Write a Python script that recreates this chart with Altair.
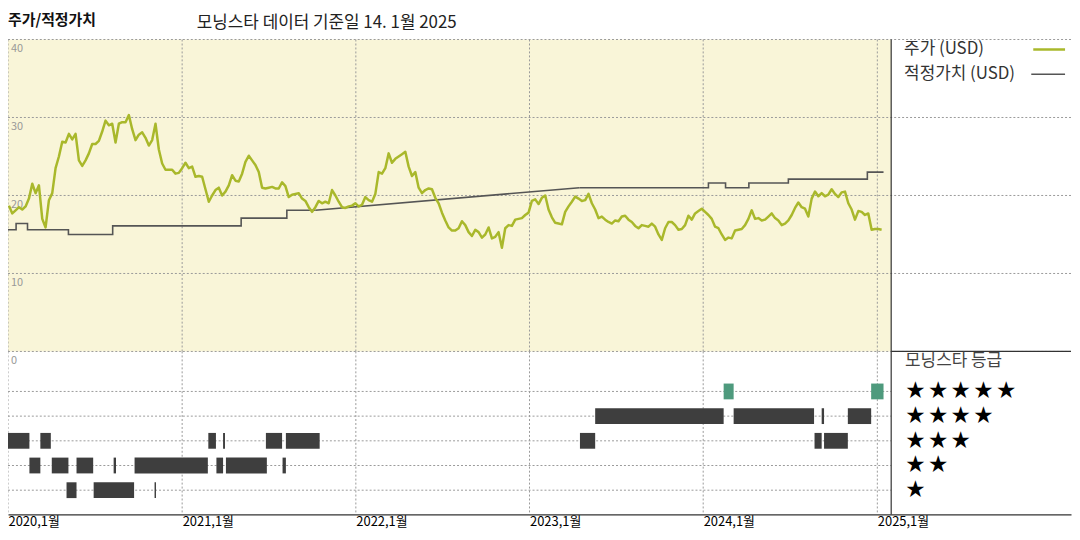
import altair as alt
import pandas as pd

# ---------------- data ----------------
price_start = "2020-01-03"  # weekly closing prices, one value per week from this Friday
price_values = [
    18.7, 17.7, 18.1, 18.5, 18.2, 18.6, 19.6, 21.5, 20.3, 21.3,
    17.0, 15.9, 19.4, 20.3, 23.5, 25.0, 26.9, 26.8, 27.9, 27.2,
    27.9, 24.5, 23.8, 24.5, 25.4, 26.6, 26.6, 27.0, 28.2, 29.6,
    29.0, 29.2, 26.8, 29.2, 29.4, 29.4, 30.3, 28.5, 27.1, 27.8,
    28.1, 27.4, 26.4, 27.1, 29.2, 25.9, 24.1, 23.3, 23.3, 23.3,
    22.8, 22.9, 23.5,
    24.2, 23.5, 23.7, 22.4, 22.5, 22.4, 20.8, 19.2, 20.0, 20.7,
    21.0, 20.0, 20.5, 21.3, 22.6, 21.9, 21.8, 22.8, 24.3, 25.1,
    24.5, 23.9, 23.0, 21.0, 20.9, 21.0, 21.1, 20.9, 20.9, 21.7,
    21.2, 19.8, 20.1, 20.2, 20.3, 19.6, 19.3, 18.5, 17.9, 18.5,
    19.3, 19.0, 19.2, 19.0, 20.7, 20.0, 19.2, 18.5, 18.4, 18.6,
    18.7, 19.0,
    18.6, 18.8, 19.8, 19.4, 19.2, 20.2, 23.0, 22.8, 23.5, 25.4,
    24.2, 24.7, 25.0, 25.3, 25.6, 23.7, 22.5, 23.0, 21.0, 20.3,
    20.7, 20.9, 20.8, 19.7, 19.0, 17.8, 16.8, 15.9, 15.5, 15.5,
    15.8, 16.7, 16.2, 15.3, 14.8, 15.6, 15.3, 14.6, 15.0, 15.9,
    14.5, 14.7, 15.3, 13.3, 15.8, 16.2, 16.1, 16.9, 17.0, 17.1,
    17.5, 17.8,
    19.3, 19.5, 18.9, 19.7, 20.0, 18.2, 17.2, 16.5, 16.4, 16.3,
    17.9, 18.6, 19.2, 19.85, 19.6, 19.3, 19.4, 20.2, 19.0, 18.2,
    17.1, 17.3, 16.9, 16.6, 16.4, 16.8, 16.7, 17.3, 17.4, 16.9,
    16.6, 16.1, 15.8, 16.2, 16.1, 16.0, 16.4, 16.0, 15.0, 14.3,
    15.8, 16.6, 16.6, 16.2, 15.6, 15.7, 16.2, 17.4, 16.9, 17.7,
    18.0, 18.3,
    17.9, 17.5, 17.0, 16.0, 15.8, 15.0, 14.3, 14.6, 14.5, 15.5,
    15.6, 15.7, 16.2, 17.0, 18.1, 17.0, 17.1, 16.8, 16.9, 17.3,
    17.7, 17.1, 16.8, 16.2, 16.4, 16.8, 17.5, 18.4, 19.1, 18.5,
    18.3, 17.3, 19.6, 20.5, 19.9, 20.3, 19.9, 20.1, 20.8, 20.2,
    19.8, 20.4, 20.5, 19.0, 18.2, 16.9, 18.0, 17.9, 17.5, 17.7,
    15.6, 15.7, 15.7, 15.6,
]

fv_dates = ["2020-01-01", "2020-01-18", "2020-02-11", "2020-05-07", "2020-08-08",
            "2021-05-05", "2021-08-09", "2021-10-08",
            "2021-10-08", "2023-04-16",
            "2023-04-16", "2024-01-12", "2024-02-17", "2024-04-06", "2024-06-28",
            "2024-12-11", "2025-01-14"]
fv_values = [15.6, 16.4, 15.6, 15.0, 16.1, 17.1, 18.1, 18.1,
             18.1, 21.0,
             21.0, 21.6, 21.0, 21.6, 22.1, 23.0, 23.0]
fv_segment = ["a"] * 8 + ["gap"] * 2 + ["b"] * 7

rating_start = ["2020-01-01", "2020-03-09", "2021-02-25", "2021-03-28", "2021-06-26", "2021-08-07",
                "2023-04-17", "2024-08-22", "2024-09-11",
                "2020-02-15", "2020-04-02", "2020-05-24", "2020-08-10", "2020-09-23", "2021-03-14",
                "2021-04-03", "2021-07-31",
                "2020-05-03", "2020-06-29", "2020-11-04",
                "2023-05-19", "2024-03-05", "2024-09-06", "2024-10-31",
                "2024-02-13", "2024-12-19"]
rating_end = ["2020-02-15", "2020-03-31", "2021-03-13", "2021-04-01", "2021-07-30", "2021-10-17",
              "2023-05-19", "2024-09-06", "2024-10-31",
              "2020-03-09", "2020-05-07", "2020-06-28", "2020-08-15", "2021-02-24", "2021-03-28",
              "2021-06-28", "2021-08-07",
              "2020-05-24", "2020-09-22", "2020-11-07",
              "2024-02-13", "2024-08-21", "2024-09-11", "2024-12-19",
              "2024-03-05", "2025-01-14"]
rating_value = [3] * 9 + [2] * 8 + [1] * 3 + [4] * 4 + [5] * 2

year_ticks = ["2020-01-01", "2021-01-01", "2022-01-01", "2023-01-01", "2024-01-01", "2025-01-01"]
price_ticks = [0, 10, 20, 30, 40]
star_levels = [5, 4, 3, 2, 1]
legend_labels = ["주가 (USD)", "적정가치 (USD)"]
title_left = "주가/적정가치"
title_right = "모닝스타 데이터 기준일 14. 1월 2025"
rating_title = "모닝스타 등급"
x_start, x_end = "2020-01-01", "2026-02-12"

# ---------------- layout / style ----------------
W = 1070
TOP_H = 314
BOT_H = 164
DIV = 889
FONT = "Noto Sans CJK KR"
PRICE_COLOR = "#A9B82B"
FV_COLOR = "#555555"
GRID = "#9a9a9a"


def ms(s):
    return int(pd.Timestamp(s, tz="UTC").timestamp() * 1000)


xscale = alt.Scale(type="utc", domain=[ms(x_start), ms(x_end)])

price_df = pd.DataFrame({
    "date": pd.date_range(price_start, periods=len(price_values), freq="7D").strftime("%Y-%m-%d"),
    "price": price_values,
})
fv_df = pd.DataFrame({"date": fv_dates, "value": fv_values, "seg": fv_segment})
rating_df = pd.DataFrame({"start": rating_start, "end": rating_end, "stars": rating_value})
year_df = pd.DataFrame({"date": year_ticks})
ptick_df = pd.DataFrame({"v": price_ticks, "label": [str(v) for v in price_ticks]})
star_df = pd.DataFrame({"stars": star_levels,
                        "label": ["\u2009".join(["★"] * n) for n in star_levels]})
one = pd.DataFrame({"a": [0]})

yscale = alt.Scale(domain=[0, 40], nice=False)


def Xt(field):
    return alt.X(field, type="temporal", scale=xscale, axis=None)


def Yt(field):
    return alt.Y(field, type="quantitative", scale=yscale, axis=None)


# ---------------- top panel ----------------
bg = alt.Chart(one).mark_rect(color="#F9F5D8").encode(
    x=alt.value(0), x2=alt.value(DIV), y=alt.value(0), y2=alt.value(TOP_H))
hgrid = alt.Chart(ptick_df).mark_rule(color=GRID, strokeDash=[2, 2], strokeWidth=1).encode(y=Yt("v"))
ylabels = alt.Chart(ptick_df).mark_text(align="left", baseline="top", dx=3, dy=4,
                                         fontSize=11, color="#999999").encode(
    text="label:N", x=alt.value(0), y=Yt("v"))
vgrid_top = alt.Chart(year_df).mark_rule(color=GRID, strokeDash=[2, 2], strokeWidth=1).encode(x=Xt("date"))
fv_step = alt.Chart(fv_df).transform_filter(alt.datum.seg != "gap").mark_line(
    color=FV_COLOR, strokeWidth=1.6, interpolate="step-after").encode(
    x=Xt("date"), y=Yt("value"), detail="seg:N")
fv_gap = alt.Chart(fv_df).transform_filter(alt.datum.seg == "gap").mark_line(
    color=FV_COLOR, strokeWidth=1.6).encode(x=Xt("date"), y=Yt("value"))
price_line = alt.Chart(price_df).mark_line(color=PRICE_COLOR, strokeWidth=2.5, strokeJoin="round").encode(
    x=Xt("date"), y=Yt("price"))
div_top = alt.Chart(one).mark_rule(color="#333333", strokeWidth=1.2).encode(
    x=alt.value(DIV), y=alt.value(0), y2=alt.value(TOP_H))
base_right = alt.Chart(one).mark_rule(color="#333333", strokeWidth=1.2).encode(
    x=alt.value(DIV), x2=alt.value(W), y=alt.value(TOP_H))
leg_t1 = alt.Chart(pd.DataFrame({"t": [legend_labels[0]]})).mark_text(
    align="left", baseline="middle", fontSize=17, color="#333333").encode(
    text="t:N", x=alt.value(902), y=alt.value(10))
leg_t2 = alt.Chart(pd.DataFrame({"t": [legend_labels[1]]})).mark_text(
    align="left", baseline="middle", fontSize=17, color="#333333").encode(
    text="t:N", x=alt.value(902), y=alt.value(35))
leg_l1 = alt.Chart(one).mark_rule(color=PRICE_COLOR, strokeWidth=2.5).encode(
    x=alt.value(1032), x2=alt.value(1064), y=alt.value(10))
leg_l2 = alt.Chart(one).mark_rule(color=FV_COLOR, strokeWidth=1.5).encode(
    x=alt.value(1030), x2=alt.value(1064), y=alt.value(35))
ttl1 = alt.Chart(pd.DataFrame({"t": [title_left]})).mark_text(
    align="left", baseline="middle", fontSize=15, fontWeight="bold", color="#111111").encode(
    text="t:N", x=alt.value(0), y=alt.value(-20))
ttl2 = alt.Chart(pd.DataFrame({"t": [title_right]})).mark_text(
    align="left", baseline="middle", fontSize=17, color="#222222").encode(
    text="t:N", x=alt.value(190), y=alt.value(-17))

top = alt.layer(bg, hgrid, vgrid_top, ylabels, fv_step, fv_gap, price_line, div_top, base_right,
                leg_t1, leg_t2, leg_l1, leg_l2, ttl1, ttl2).properties(width=W, height=TOP_H)

# ---------------- bottom panel ----------------
xaxis_b = alt.Axis(values=[ms(d) for d in year_ticks], format="%Y,%-m월", grid=False, ticks=False,
                   domain=True, domainColor="#333333", domainWidth=1.3, labelAlign="left",
                   labelBaseline="top", labelPadding=1, labelFontSize=13, labelColor="#000000",
                   labelFlush=False, title=None)
rscale = alt.Scale(domain=[0.02, 6.62], nice=False, zero=False)


def Xb(field):
    return alt.X(field, type="temporal", scale=xscale, axis=xaxis_b)


vgrid_bot = alt.Chart(year_df).mark_rule(color=GRID, strokeDash=[2, 2], strokeWidth=1).encode(x=Xb("date"))
row_grid = alt.Chart(star_df).mark_rule(color=GRID, strokeDash=[2, 2], strokeWidth=1).encode(
    y=alt.Y("stars:Q", scale=rscale, axis=None), x=alt.value(0), x2=alt.value(DIV))
bars = alt.Chart(rating_df).transform_calculate(
    lo="datum.stars - 0.32", hi="datum.stars + 0.32").mark_rect().encode(
    x=Xb("start"), x2="end:T",
    y=alt.Y("lo:Q", scale=rscale, axis=None), y2="hi:Q",
    color=alt.condition(alt.datum.stars == 5, alt.value("#4E9A7D"), alt.value("#3E3E3E")))
div_bot = alt.Chart(one).mark_rule(color="#333333", strokeWidth=1.2).encode(
    x=alt.value(DIV), y=alt.value(0), y2=alt.value(BOT_H))
stars = alt.Chart(star_df).mark_text(align="left", baseline="middle", fontSize=19, color="#000000").encode(
    text="label:N", x=alt.value(904), y=alt.Y("stars:Q", scale=rscale, axis=None))
rtitle = alt.Chart(pd.DataFrame({"t": [rating_title]})).mark_text(
    align="left", baseline="middle", fontSize=17, color="#444444").encode(
    text="t:N", x=alt.value(903), y=alt.value(10))

bottom = alt.layer(vgrid_bot, row_grid, bars, div_bot, stars, rtitle).properties(width=W, height=BOT_H)

chart = alt.vconcat(top, bottom, spacing=0, bounds="flush").properties(
    padding={"left": -4, "top": 3, "right": 0, "bottom": 0},
    background="white",
).configure_view(stroke=None).configure_text(font=FONT).configure_axis(labelFont=FONT)

chart.save("out.html", embed_options={"renderer": "svg", "actions": False})
